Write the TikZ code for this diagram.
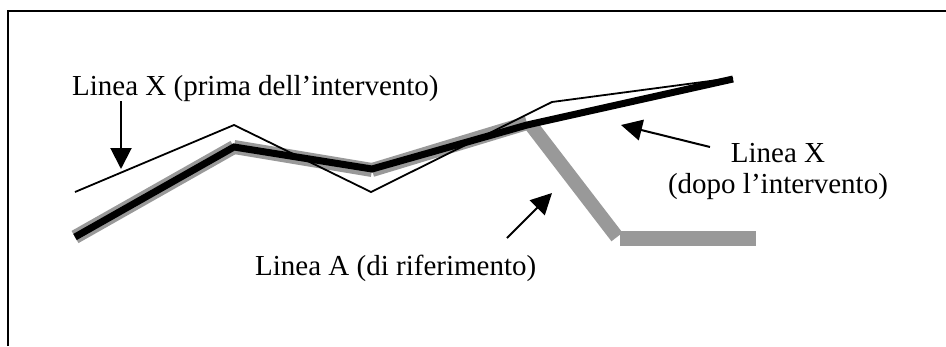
\documentclass[tikz,border=0pt]{standalone}
\usepackage{fontspec}
\setmainfont{Liberation Serif}
\usetikzlibrary{arrows.meta}
\definecolor{refgray}{RGB}{153,153,153}
\begin{document}
\begin{tikzpicture}[x=1pt,y=-1pt,
  lbl/.style={inner sep=0pt, font=\fontsize{29}{31}\selectfont, anchor=base west},
  clbl/.style={inner sep=0pt, font=\fontsize{29}{31}\selectfont, anchor=base},
  ptr/.style={line width=2pt, -{Triangle[length=21pt,width=21pt]}},
  refline/.style={line width=14pt, draw=refgray, line cap=butt},
  afterline/.style={line width=7pt, draw=black, line join=miter},
  beforeline/.style={line width=1.8pt, draw=black},
  frame/.style={line width=2pt, draw=black}
]
\useasboundingbox (0,0) rectangle (946,346);
\draw[frame] (8,346) -- (8,11) -- (946,11);

% Linea A (reference)
\draw[refline] (75,237) -- (234,147);
\draw[refline] (234,147) -- (372,170);
\draw[refline] (372,170) -- (527,123);
\draw[refline] (531,125) -- (617,237);
\draw[refline, line width=15pt] (620,238) -- (756,238);

% Linea X after
\draw[afterline] (75,237) -- (234,147) -- (372,169) -- (527,125) -- (733,79);

% Linea X before
\draw[beforeline] (75,192) -- (234,125) -- (371,192) -- (552,102) -- (733,78);

% labels
\node[lbl] (lblPre) at (72,95) {Linea X (prima dell’intervento)};
\node[clbl] (lblPost1) at (778,162) {Linea X};
\node[clbl] (lblPost2) at (778,193) {(dopo l’intervento)};
\node[lbl] (lblRef) at (255,275) {Linea A (di riferimento)};

% pointers
\coordinate (tipPre) at (121,169);
\coordinate (tailPost) at (710,147);
\coordinate (tipPost) at (621,125);
\coordinate (tailRef) at (507,238);
\coordinate (tipRef) at (552,193);
\draw[ptr] (lblPre.south -| tipPre) -- (tipPre);
\draw[ptr] (tailPost) -- (tipPost);
\draw[ptr] (tailRef) -- (tipRef);
\end{tikzpicture}
\end{document}
